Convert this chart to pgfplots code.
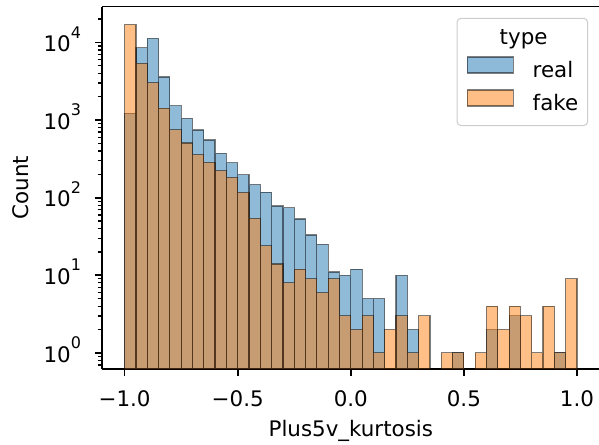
\documentclass[border=0pt]{standalone}
\usepackage{fontspec}
\setmainfont{DejaVu Sans}
\usepackage{pgfplots}
\pgfplotsset{compat=1.18}
\definecolor{cblue}{RGB}{31,119,180}
\definecolor{corange}{RGB}{255,127,14}
\newcommand\tf{\fontsize{10.7}{12.8}\selectfont}
\newcommand\tsup[1]{\raisebox{6.8pt}{\fontsize{8}{9}\selectfont #1}}
\pgfplotsset{patchlegend/.style={legend image code/.code={\path (0pt,10.5pt); \draw[##1, sharp corners] (0pt,-0.5pt) rectangle (23pt,7.5pt);}}}
\begin{document}
\begin{tikzpicture}
\begin{axis}[
  name=ax,
  scale only axis, width=248.8pt, height=181.2pt,
  xmin=-1.1, xmax=1.1,
  ymode=log, ymin=0.62, ymax=29000, log origin=infty,
  axis y line*=left,
  axis line style={line width=0.85pt},
  tick align=outside, tick pos=left,
  major tick length=3.5pt, minor tick length=2pt,
  major tick style={black, line width=0.85pt},
  minor tick style={black, line width=0.64pt},
  xtick={-1,-0.5,0,0.5,1},
  xticklabels={−1.0,−0.5,0.0,0.5,1.0},
  ytick={1,10,100,1000,10000},
  yticklabels={10\tsup{0},10\tsup{1},10\tsup{2},10\tsup{3},10\tsup{4}},
  minor ytick={0.7,0.8,0.9,2,3,4,5,6,7,8,9,20,30,40,50,60,70,80,90,200,300,400,500,600,700,800,900,2000,3000,4000,5000,6000,7000,8000,9000,20000},
  tick label style={font=\tf},
  xticklabel style={anchor=base, yshift=-15.35pt},
  yticklabel style={anchor=base east, xshift=-3.5pt, yshift=-4.65pt},
  xlabel={Plus5v\_kurtosis}, ylabel={Count},
  label style={font=\tf},
  xlabel style={at={(axis description cs:0.5,0)}, anchor=base, yshift=-33.5pt},
  ylabel style={at={(axis description cs:-0.1487,0.5)}, anchor=base},
  legend cell align=left,
  legend style={at={(0.977,0.969)}, anchor=north east, draw=black!20, line width=0.5pt,
    rounded corners=2pt, fill=white, font=\tf, inner xsep=4.75pt, inner ysep=5pt,
    row sep=0.5pt, column sep=9.5pt,
    nodes={inner sep=0pt, text height=8pt, text depth=2.5pt}},
]
\addlegendimage{empty legend}
\addlegendentry{\hspace*{-16.5pt}type}
\addplot[ybar, bar width=0.05, bar shift=0pt, fill=cblue, draw=black, opacity=0.5, line width=0.6pt, patchlegend]
coordinates {
(-0.975,1230) (-0.925,8550) (-0.875,11300) (-0.825,3600) (-0.775,1527)
(-0.725,1050) (-0.675,743) (-0.625,553) (-0.575,373) (-0.525,281)
(-0.475,197) (-0.425,147) (-0.375,118) (-0.325,78) (-0.275,74)
(-0.225,53) (-0.175,33) (-0.125,25) (-0.075,11) (-0.025,10)
(0.025,12) (0.075,5) (0.125,5) (0.225,10) (0.275,2)
(0.475,1) (0.625,2) (0.725,3) (0.925,1)
};
\addlegendentry{real}
\addplot[ybar, bar width=0.05, bar shift=0pt, fill=corange, draw=black, opacity=0.5, line width=0.6pt, patchlegend]
coordinates {
(-0.975,17000) (-0.925,5380) (-0.875,3040) (-0.825,1425) (-0.775,750)
(-0.725,507) (-0.675,359) (-0.625,286) (-0.575,223) (-0.525,183)
(-0.475,117) (-0.425,54) (-0.375,24) (-0.325,14) (-0.275,8)
(-0.225,12) (-0.175,9) (-0.125,6) (-0.075,9) (-0.025,3)
(0.025,2) (0.075,3) (0.125,1) (0.175,2) (0.225,3)
(0.275,1) (0.325,3) (0.425,1) (0.475,1) (0.575,1)
(0.625,4) (0.675,2) (0.725,4) (0.775,3) (0.825,1)
(0.875,4) (0.925,1) (0.975,9)
};
\addlegendentry{fake}
\end{axis}
\pgfresetboundingbox
\path[use as bounding box] ([shift={(-51pt,-37.5pt)}]ax.south west) rectangle ([shift={(248.5pt,184.5pt)}]ax.south west);
\end{tikzpicture}
\end{document}
